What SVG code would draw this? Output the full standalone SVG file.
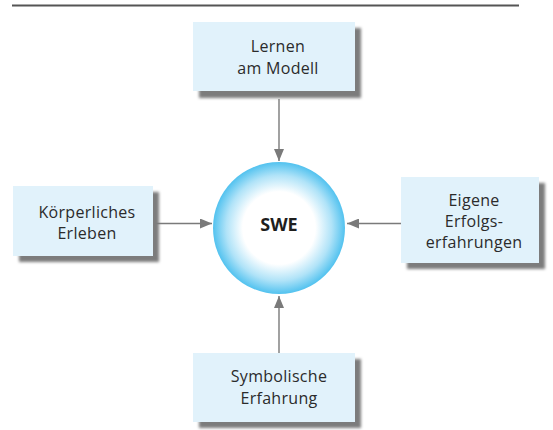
<svg xmlns="http://www.w3.org/2000/svg" width="553" height="430" viewBox="0 0 553 430">
  <defs>
    <radialGradient id="ring" cx="0.5" cy="0.5" r="0.5">
      <stop offset="0" stop-color="#ffffff"/>
      <stop offset="0.55" stop-color="#ffffff"/>
      <stop offset="0.8" stop-color="#b0e3f8"/>
      <stop offset="1" stop-color="#52c2ef"/>
    </radialGradient>
    <filter id="shadow" x="-10%" y="-10%" width="130%" height="140%">
      <feGaussianBlur stdDeviation="1.5"/>
    </filter>
    <marker id="arrow" viewBox="0 0 12 10" refX="12" refY="5" markerWidth="12" markerHeight="10" markerUnits="userSpaceOnUse" orient="auto">
      <path d="M0,0 L12,5 L0,10 Z" fill="#7a7a7a"/>
    </marker>
  </defs>
  <style>
    .box { fill: #e1f2fb; }
    .shade { fill: #7c7c7c; filter: url(#shadow); }
    .lbl { font-family: "Open Sans", "Liberation Sans", sans-serif; font-size: 16px; letter-spacing: 0.3px; fill: #2b2b2b; text-anchor: middle; }
    .conn { stroke: #7a7a7a; stroke-width: 1.4; fill: none; marker-end: url(#arrow); }
  </style>

  <!-- top rule -->
  <line x1="12" y1="5.5" x2="519" y2="5.5" stroke="#555" stroke-width="2"/>

  <!-- connectors -->
  <g id="connectors">
    <line class="conn" x1="279" y1="99" x2="279" y2="161"/>
    <line class="conn" x1="153" y1="223.5" x2="212" y2="223.5"/>
    <line class="conn" x1="401" y1="223.5" x2="347" y2="223.5"/>
    <line class="conn" x1="279" y1="353" x2="279" y2="296"/>
  </g>

  <!-- centre -->
  <g id="swe">
    <circle cx="279" cy="228" r="66" fill="url(#ring)"/>
    <text x="279" y="231" font-family="'Open Sans', 'Liberation Sans', sans-serif" font-size="18" font-weight="bold" fill="#1e1e1e" text-anchor="middle">SWE</text>
  </g>

  <g id="modell">
    <rect class="shade" x="199" y="28" width="162" height="70"/>
    <rect class="box" x="193" y="22" width="162" height="69"/>
    <text class="lbl" x="278" y="52">Lernen</text>
    <text class="lbl" x="278" y="74">am Modell</text>
  </g>

  <g id="koerper">
    <rect class="shade" x="19" y="192" width="140" height="70"/>
    <rect class="box" x="13" y="186" width="140" height="70"/>
    <text class="lbl" x="87" y="218">Körperliches</text>
    <text class="lbl" x="87" y="239">Erleben</text>
  </g>

  <g id="erfolg">
    <rect class="shade" x="407" y="183" width="138" height="86"/>
    <rect class="box" x="401" y="177" width="138" height="86"/>
    <text class="lbl" x="474" y="206">Eigene</text>
    <text class="lbl" x="474" y="227">Erfolgs-</text>
    <text class="lbl" x="474" y="248">erfahrungen</text>
  </g>

  <g id="symbol">
    <rect class="shade" x="199" y="359" width="162" height="69"/>
    <rect class="box" x="193" y="353" width="162" height="69"/>
    <text class="lbl" x="279" y="382">Symbolische</text>
    <text class="lbl" x="279" y="404">Erfahrung</text>
  </g>
</svg>
